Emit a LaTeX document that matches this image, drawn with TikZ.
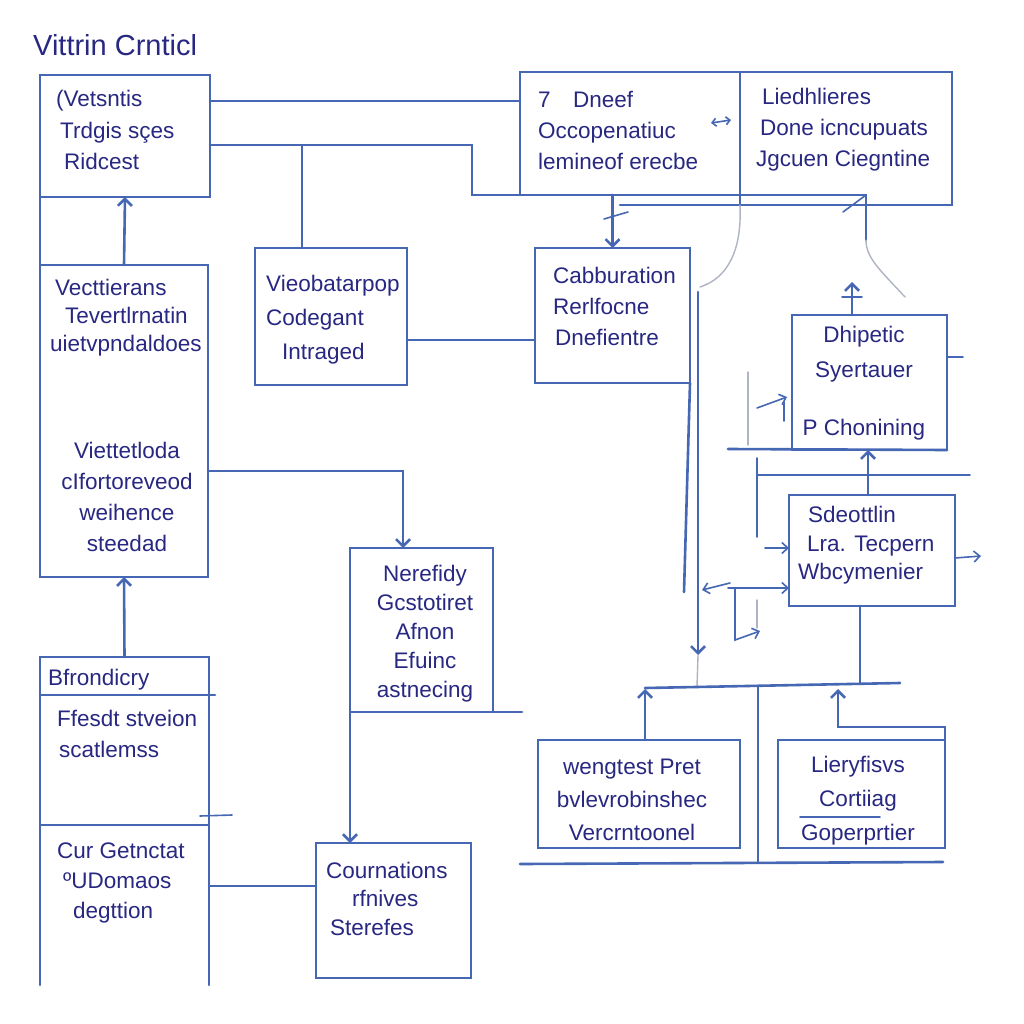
\documentclass[tikz,border=0pt]{standalone}
\usepackage{fontspec}
\setmainfont{Liberation Sans}
\usetikzlibrary{arrows.meta}
\definecolor{lc}{RGB}{70,104,180}
\definecolor{tc}{RGB}{40,40,130}
\definecolor{gc}{RGB}{175,180,195}
\tikzset{
  box/.style={draw=lc, line width=2.6pt, inner sep=0pt, outer sep=0pt},
  lbl/.style={text=tc, font=\fontsize{22.5}{31}\selectfont, inner sep=0pt, align=left, anchor=west},
  clbl/.style={lbl, align=center, anchor=center},
  ln/.style={draw=lc, line width=2.6pt, line cap=round},
  thin/.style={draw=lc, line width=1.6pt, line cap=round},
  gl/.style={draw=gc, line width=1.4pt, line cap=round},
  arr/.style={ln, -{Straight Barb[length=7pt,width=14pt]}},
  sarr/.style={thin, -{Straight Barb[length=6pt,width=11pt]}}
}
\begin{document}
\begin{tikzpicture}[x=1pt,y=-1pt]
\fill[white] (0,0) rectangle (1024,1024);
\useasboundingbox (0,0) rectangle (1024,1024);

% title
\node[lbl, font=\fontsize{29}{32}\selectfont] (title) at (33,45) {Vittrin Crnticl};

% boxes
\node[box, minimum width=170pt, minimum height=122pt] (A) at (125,136) {};
\node[box, minimum width=220pt, minimum height=123pt] (B) at (630,133.5) {};
\node[box, minimum width=212pt, minimum height=133pt] (C) at (846,138.5) {};
\node[box, minimum width=152pt, minimum height=137pt] (D) at (331,316.5) {};
\node[box, minimum width=155pt, minimum height=135pt] (E) at (612.5,315.5) {};
\node[box, minimum width=168pt, minimum height=312pt] (F) at (124,421) {};
\node[box, minimum width=143pt, minimum height=164pt] (G) at (421.5,630) {};
\node[box, minimum width=155pt, minimum height=135pt] (H) at (393.5,910.5) {};
\node[box, minimum width=169pt, minimum height=168pt] (I) at (124.5,741) {};
\node[inner sep=0pt, outer sep=0pt, minimum width=169pt, minimum height=160pt] (J) at (124.5,905) {};
\draw[ln] (J.south west) -- (J.north west) -- (J.north east) -- (J.south east);
\node[box, minimum width=155pt, minimum height=135pt] (K) at (869.5,382.5) {};
\node[box, minimum width=166pt, minimum height=111pt] (L) at (872,550.5) {};
\node[box, minimum width=202pt, minimum height=108pt] (M) at (639,794) {};
\node[box, minimum width=167pt, minimum height=108pt] (N) at (861.5,794) {};

% texts
\node[lbl] (tA) at (56,130) {(Vetsntis\\[1pt]\hspace*{4pt}Trdgis sçes\\\hspace*{8pt}Ridcest};
\node[lbl] (tB) at (538,130) {7\quad Dneef\\Occopenatiuc\\lemineof erecbe};
\node[lbl] (tC) at (756,130) {\hspace*{6pt}Liedhlieres\\\hspace*{4pt}Done icncupuats\\Jgcuen Ciegntine};
\node[lbl, font=\fontsize{22.5}{34}\selectfont] (tD) at (266,319.5) {Vieobatarpop\\Codegant\\\hspace*{16pt}Intraged};
\node[lbl] (tE) at (553,306.5) {Cabburation\\Rerlfocne\\\hspace*{2pt}Dnefientre};
\node[lbl, font=\fontsize{22.5}{28}\selectfont] (tF1) at (50,318) {\hspace*{5pt}Vecttierans\\\hspace*{15pt}Tevertlrnatin\\uietvpndaldoes};
\node[clbl] (tF2) at (127,497) {Viettetloda\\cIfortoreveod\\weihence\\steedad};
\node[clbl, font=\fontsize{22.5}{29}\selectfont] (tG) at (425,633.5) {Nerefidy\\Gcstotiret\\Afnon\\Efuinc\\astnecing};
\node[lbl, font=\fontsize{22.5}{28.5}\selectfont] (tH) at (326,898.5) {Cournations\\\hspace*{26pt}rfnives\\\hspace*{4pt}Sterefes};
\node[lbl] (tI1) at (48,680) {Bfrondicry};
\node[lbl] (tI2) at (57,734) {Ffesdt stveion\\\hspace*{2pt}scatlemss};
\node[lbl, font=\fontsize{22.5}{30}\selectfont] (tJ) at (57,883) {Cur Getnctat\\\hspace*{6pt}ºUDomaos\\\hspace*{16pt}degttion};
\node[clbl, font=\fontsize{22.5}{35}\selectfont] (tK1) at (864,354) {Dhipetic\\Syertauer};
\node[clbl] (tK2) at (864,430) {P Chonining};
\node[lbl, font=\fontsize{22.5}{28.5}\selectfont] (tL) at (798,545.5) {\hspace*{10pt}Sdeottlin\\\hspace*{9pt}Lra. Tecpern\\Wbcymenier};
\node[clbl, font=\fontsize{22.5}{33}\selectfont] (tM) at (632,800) {wengtest Pret\\bvlevrobinshec\\Vercrntoonel};
\node[clbl, font=\fontsize{22.5}{34}\selectfont] (tN) at (858,801) {Lieryfisvs\\Cortiiag\\Goperprtier};

% left column connectors
\draw[ln] (A.east |- 0,101) -- (B.west |- 0,101);
\draw[ln] (A.east |- 0,145) -| (472,195) -- (B.south west);
\draw[ln] (302,145) -- (D.north -| 302,0);
\draw[ln] (A.south west) -- (F.north west);
\draw[arr] (F.north) -- (A.south);
\draw[ln] (D.east |- 0,340) -- (E.west |- 0,340);
\draw[arr] (B.south -| E.north) -- (E.north);
\draw[thin] (604,219) -- (628,212);
\draw[arr] (F.east |- 0,471) -| (G.north -| 403,0);
\draw[arr] (G.south west) -- (H.north -| G.south west);
\draw[ln] (G.south east) -- (522,712);
\draw[ln] (J.east |- 0,886) -- (H.west |- 0,886);
\draw[arr] (I.north) -- (F.south);
\draw[ln] (I.west |- 0,695) -- (215,695);
\draw[thin] (200,816) -- (232,815);

% top right
\draw[sarr, {Straight Barb[length=4pt,width=8pt]}-{Straight Barb[length=4pt,width=8pt]}] (711,123) -- (731,120);
\draw[ln] (620,205) -- (C.south west);
\draw[ln] (B.south east) -- (866,195) -- (866,240);
\draw[thin] (843,212) -- (866,195);
\draw[gl] (C.south west) .. controls (742,250) and (728,278) .. (700,287);
\draw[gl] (866,240) .. controls (866,258) and (880,270) .. (905,297);

% E side verticals
\draw[ln] (E.south east) -- (684,592);
\draw[sarr] (730,583) -- (702,590);
\draw[arr] (698,292) -- (698,655);
\draw[gl] (698,655) -- (697,686);
\draw[sarr] (728,588) -- (L.west |- 0,588);
\draw[ln] (735,588) -- (735,640);
\draw[sarr] (735,640) -- (760,631);
\draw[gl] (757,600) -- (757,628);

% K region
\node[inner sep=0pt] (ktop) at (852,282) {};
\draw[arr] (K.north -| 852,0) -- (ktop.center);
\draw[thin] (842,297) -- (862,297);
\draw[thin] (K.east |- 0,357) -- (963,357);
\draw[ln] (728,449) -- (K.south east);
\draw[gl] (748,372) -- (748,445);
\draw[sarr] (757,408) -- (787,397);
\draw[thin] (784,402) -- (784,421);
\draw[arr] (L.north -| 868,0) -- (K.south -| 868,0);
\draw[thin] (757,475) -- (970,475);
\draw[thin] (757,458) -- (757,537);
\draw[sarr] (765,548) -- (L.west |- 0,548);
\draw[sarr] (L.east |- 0,558) -- (981,556);

% bottom right
\draw[ln] (L.south -| 860,0) -- (860,683);
\draw[ln] (645,688) -- (900,683);
\draw[arr] (M.north -| 645,0) -- (645,689);
\draw[ln] (758,687) -- (758,862);
\draw[ln] (520,864) -- (943,862);
\draw[arr] (N.north east) |- (838,727) -- (838,689);
\draw[thin] (800,817) -- (880,817);
\end{tikzpicture}
\end{document}
